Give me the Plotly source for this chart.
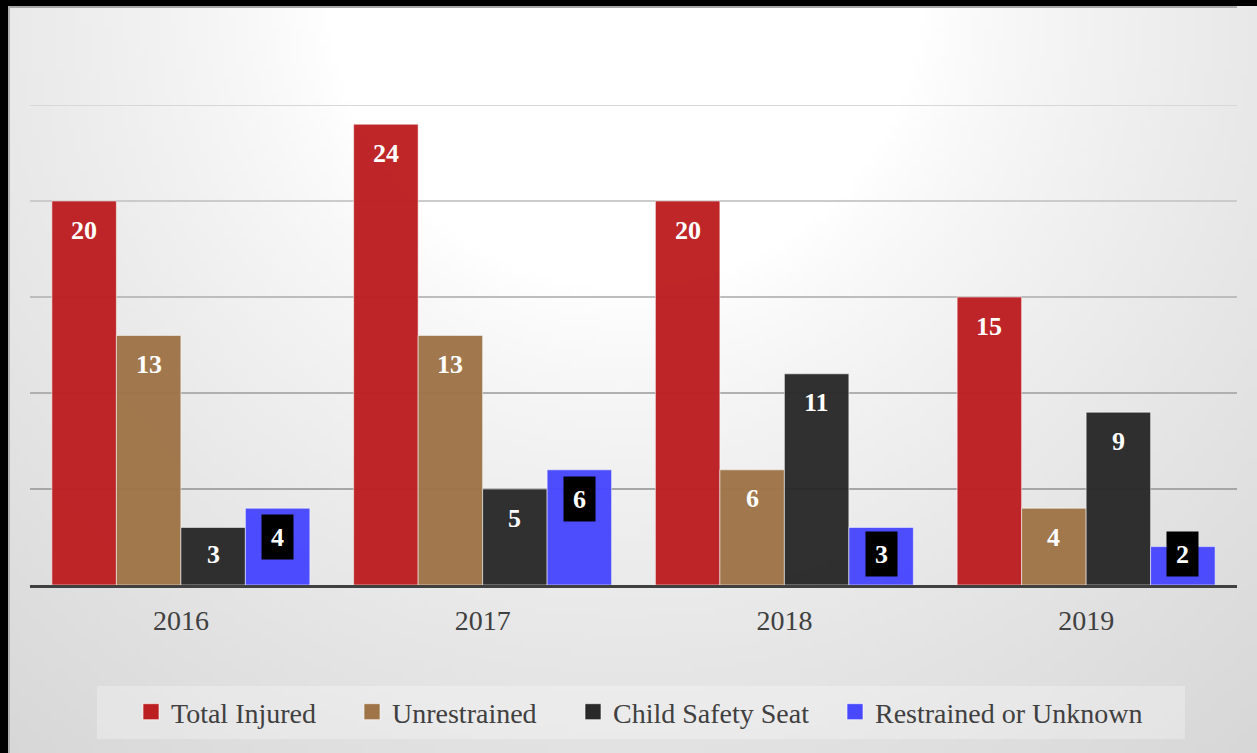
import base64, zlib, struct
import plotly.graph_objects as go

# ---------------- data ----------------
YEARS = ["2016", "2017", "2018", "2019"]
SERIES = ["Total Injured", "Unrestrained", "Child Safety Seat", "Restrained or Unknown"]
TOTAL_INJURED = [20, 24, 20, 15]
UNRESTRAINED = [13, 13, 6, 4]
CHILD_SAFETY_SEAT = [3, 5, 11, 9]
RESTRAINED_OR_UNKNOWN = [4, 6, 3, 2]
GRID_VALUES = [5, 10, 15, 20, 25]

# ---------------- style ----------------
COLORS = ["#BC1F22", "#9F7448", "#2A2A2A", "#4848FF"]
GRID_COLORS = ["#a6a6a6", "#b0b0b0", "#bdbdbd", "#cbcbcb", "#d8d8d8"]
LEGEND_SYMBOL_CENTERS = [151, 372, 593, 855]  # pixel x of each legend square
FONT = "Liberation Serif"
W, H = 1257, 753
ML, MR, MT, MB = 30, 20, 105, 168
PW, PH = W - ML - MR, H - MT - MB
BARGAP = 0.145
LABEL_FLOOR = 3.1


def px2x(px):
    return (px - ML) / PW


def py2y(py):
    return (H - MB - py) / PH


# ---------------- background gradient image ----------------
def gradient_png(w, h):
    rows = []
    for j in range(h):
        py = (j + 0.5) * H / h
        row = bytearray()
        for i in range(w):
            px = (i + 0.5) * W / w
            r = ((px - 625) ** 2 + (py + 10) ** 2) ** 0.5
            d = 0.235 * max(0.0, r - 300) ** 0.787
            row.append(max(0, min(255, int(round(255 - d)))))
        rows.append(b"\x00" + bytes(row))
    raw = b"".join(rows)

    def chunk(tag, data):
        c = struct.pack(">I", len(data)) + tag + data
        return c + struct.pack(">I", zlib.crc32(tag + data) & 0xFFFFFFFF)

    png = b"\x89PNG\r\n\x1a\n"
    png += chunk(b"IHDR", struct.pack(">IIBBBBB", w, h, 8, 0, 0, 0, 0))
    png += chunk(b"IDAT", zlib.compress(raw, 9))
    png += chunk(b"IEND", b"")
    return "data:image/png;base64," + base64.b64encode(png).decode()


bg_src = gradient_png(210, 126)

values = [TOTAL_INJURED, UNRESTRAINED, CHILD_SAFETY_SEAT, RESTRAINED_OR_UNKNOWN]
xs = list(range(len(YEARS)))
legend_ids = ["legend", "legend2", "legend3", "legend4"]

fig = go.Figure()
for name, vals, col in zip(SERIES, values, COLORS):
    fig.add_trace(go.Bar(
        x=xs, y=vals, name=name, showlegend=False,
        marker=dict(color=col, opacity=0.97,
                    line=dict(color="rgba(255,255,255,0.55)", width=1)),
        hoverinfo="x+y+name",
    ))
# legend entries (one legend per entry so each can be placed)
for name, col, lid in zip(SERIES, COLORS, legend_ids):
    fig.add_trace(go.Scatter(
        x=[None], y=[None], mode="markers", name=name, legend=lid,
        marker=dict(symbol="square", size=16, color=col,
                    line=dict(color="rgba(255,255,255,0.6)", width=1)),
    ))

bw = (1 - BARGAP) / len(SERIES)
annotations = []
for k, vals in enumerate(values):
    boxed = (k == 3)
    for i, v in enumerate(vals):
        a = dict(
            x=i + (k - 1.5) * bw, y=max(v, LABEL_FLOOR), xref="x", yref="y",
            text=str(v), showarrow=False, yanchor="middle", xanchor="center",
            yshift=-29,
            font=dict(family=FONT, size=26, color="white", weight="bold"),
        )
        if boxed:
            a.update(bgcolor="black", width=31, height=44, borderpad=0)
        annotations.append(a)

shapes = []
for gv, gc in zip(GRID_VALUES, GRID_COLORS):
    shapes.append(dict(type="line", xref="paper", yref="y", x0=0, x1=1, y0=gv, y1=gv,
                       line=dict(color=gc, width=2), layer="below"))
# legend box
shapes.append(dict(type="rect", xref="paper", yref="paper",
                   x0=px2x(97), x1=px2x(1185), y0=py2y(739), y1=py2y(686),
                   fillcolor="rgba(255,255,255,0.28)", line=dict(width=0), layer="below"))
# frame
shapes.append(dict(type="rect", xref="paper", yref="paper",
                   x0=px2x(0), x1=px2x(W), y0=py2y(0), y1=py2y(6),
                   fillcolor="black", line=dict(width=0), layer="above"))
shapes.append(dict(type="rect", xref="paper", yref="paper",
                   x0=px2x(0), x1=px2x(8), y0=py2y(0), y1=py2y(H),
                   fillcolor="black", line=dict(width=0), layer="above"))
shapes.append(dict(type="line", xref="paper", yref="paper",
                   x0=px2x(8), x1=px2x(1237), y0=py2y(7), y1=py2y(7),
                   line=dict(color="#a8a8a8", width=2), layer="above"))
shapes.append(dict(type="line", xref="paper", yref="paper",
                   x0=px2x(9), x1=px2x(9), y0=py2y(6), y1=py2y(H),
                   line=dict(color="#b0b0b0", width=2), layer="above"))

legend_layout = {}
for lid, cx in zip(legend_ids, LEGEND_SYMBOL_CENTERS):
    legend_layout[lid] = dict(
        orientation="h", x=px2x(cx - 20), xanchor="left",
        y=py2y(712), yanchor="middle", bgcolor="rgba(0,0,0,0)",
        font=dict(family=FONT, size=28, color="#404040"),
        itemclick=False, itemdoubleclick=False,
    )

fig.update_layout(
    width=W, height=H,
    margin=dict(l=ML, r=MR, t=MT, b=MB, pad=0),
    paper_bgcolor="#dcdcdc", plot_bgcolor="rgba(0,0,0,0)",
    barmode="group", bargap=BARGAP, bargroupgap=0,
    font=dict(family=FONT, color="#404040"),
    images=[dict(source=bg_src, xref="paper", yref="paper",
                 x=px2x(0), y=py2y(0), sizex=W / PW, sizey=H / PH,
                 xanchor="left", yanchor="top", sizing="stretch", layer="below")],
    shapes=shapes,
    annotations=annotations,
    showlegend=True,
    xaxis=dict(range=[-0.5, len(YEARS) - 0.5], tickvals=xs, ticktext=YEARS,
               showgrid=False, zeroline=False, showline=True, linecolor="#404040",
               linewidth=3, ticks="", ticklabelstandoff=8,
               tickfont=dict(family=FONT, size=28, color="#404040"), fixedrange=True),
    yaxis=dict(range=[0, 25], showgrid=False, zeroline=False, showticklabels=False,
               showline=False, fixedrange=True),
    **legend_layout,
)

fig.write_html("out.html", config={"displayModeBar": False},
               post_script="document.body.style.margin='0';document.body.style.overflow='hidden';")
